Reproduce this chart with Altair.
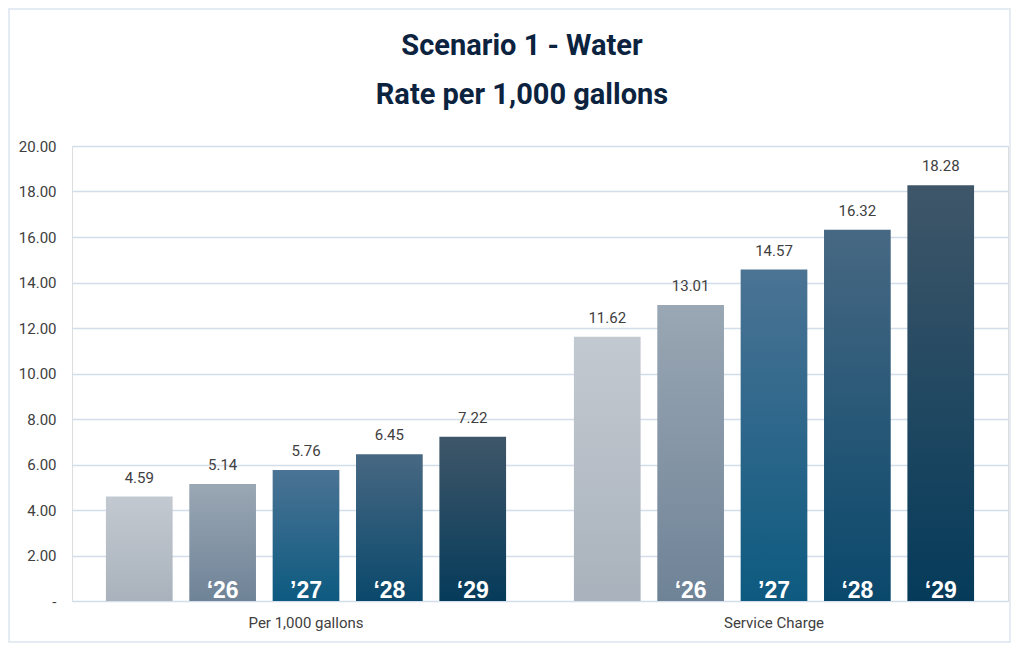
import altair as alt
import pandas as pd

categories = ["Per 1,000 gallons", "Service Charge"]
year_labels = ["", "\u201826", "\u201927", "\u201828", "\u201829"]
per_1000_values = [4.59, 5.14, 5.76, 6.45, 7.22]
service_values = [11.62, 13.01, 14.57, 16.32, 18.28]

gradients = [
    ("#c3c9d0", "#a9b2bc"),
    ("#9aa7b4", "#6f8397"),
    ("#4b7394", "#0d5a80"),
    ("#476883", "#0a486b"),
    ("#3f5669", "#053b5a"),
]

rows = []
for cat, vals in zip(categories, [per_1000_values, service_values]):
    for i, v in enumerate(vals):
        rows.append({"category": cat, "idx": i, "year": year_labels[i], "value": v})
df = pd.DataFrame(rows)

FONT = "Roboto, sans-serif"

x_enc = alt.X(
    "category:N",
    scale=alt.Scale(domain=categories, paddingInner=0, paddingOuter=0),
    axis=alt.Axis(title=None, labelAngle=0, ticks=False, domain=False,
                  labelPadding=14, labelFontSize=15, labelColor="#404040",
                  labelFont=FONT, grid=False),
)
xo_enc = alt.XOffset(
    "idx:O",
    scale=alt.Scale(domain=[0, 1, 2, 3, 4], paddingInner=0.2, paddingOuter=0.407),
)
y_enc = alt.Y(
    "value:Q",
    scale=alt.Scale(domain=[0, 20], nice=False),
    axis=alt.Axis(
        title=None, values=list(range(0, 21, 2)),
        labelExpr="datum.value == 0 ? '-' : format(datum.value, '.2f')",
        domain=False, ticks=False, gridColor="#d3deea", gridWidth=1.6,
        labelPadding=16, labelFontSize=15, labelColor="#404040", labelFont=FONT,
    ),
)

base = alt.Chart(df).encode(x=x_enc, xOffset=xo_enc, y=y_enc)

layers = []
border = alt.Chart(alt.Data(values=[{"b": 1}])).mark_rect(
    filled=False, stroke="#dbe5f0", strokeWidth=1.5
).encode(x=alt.value(-63), x2=alt.value(938), y=alt.value(-137), y2=alt.value(496))
layers.append(border)

for i, (top, bottom) in enumerate(gradients):
    layers.append(
        base.transform_filter(alt.datum.idx == i).mark_bar(
            color=alt.Gradient(
                gradient="linear",
                stops=[alt.GradientStop(color=top, offset=0),
                       alt.GradientStop(color=bottom, offset=1)],
                x1=0, x2=0, y1=0, y2=1,
            )
        )
    )

values_text = base.mark_text(
    baseline="alphabetic", dy=-14, fontSize=15, font=FONT, color="#404040"
).encode(text=alt.Text("value:Q", format=".2f"))
layers.append(values_text)

year_text = base.transform_filter(alt.datum.year != "").mark_text(
    baseline="alphabetic", dy=-3, fontSize=23, font="Liberation Sans, Arial, sans-serif",
    fontWeight="bold", color="white"
).encode(y=alt.datum(0), text="year:N")
layers.append(year_text)

chart = alt.layer(*layers).properties(
    width=936,
    height=455,
    padding=0,
    title=alt.Title(
        ["Scenario 1 - Water", "Rate per 1,000 gallons"],
        fontSize=29, font=FONT, fontWeight="bold", color="#0c2340",
        lineHeight=49, offset=-102, anchor="middle", dx=-18,
    ),
).configure_view(stroke=None).configure(background="white")

chart.save("out.html", embed_options={"renderer": "svg", "actions": False})
